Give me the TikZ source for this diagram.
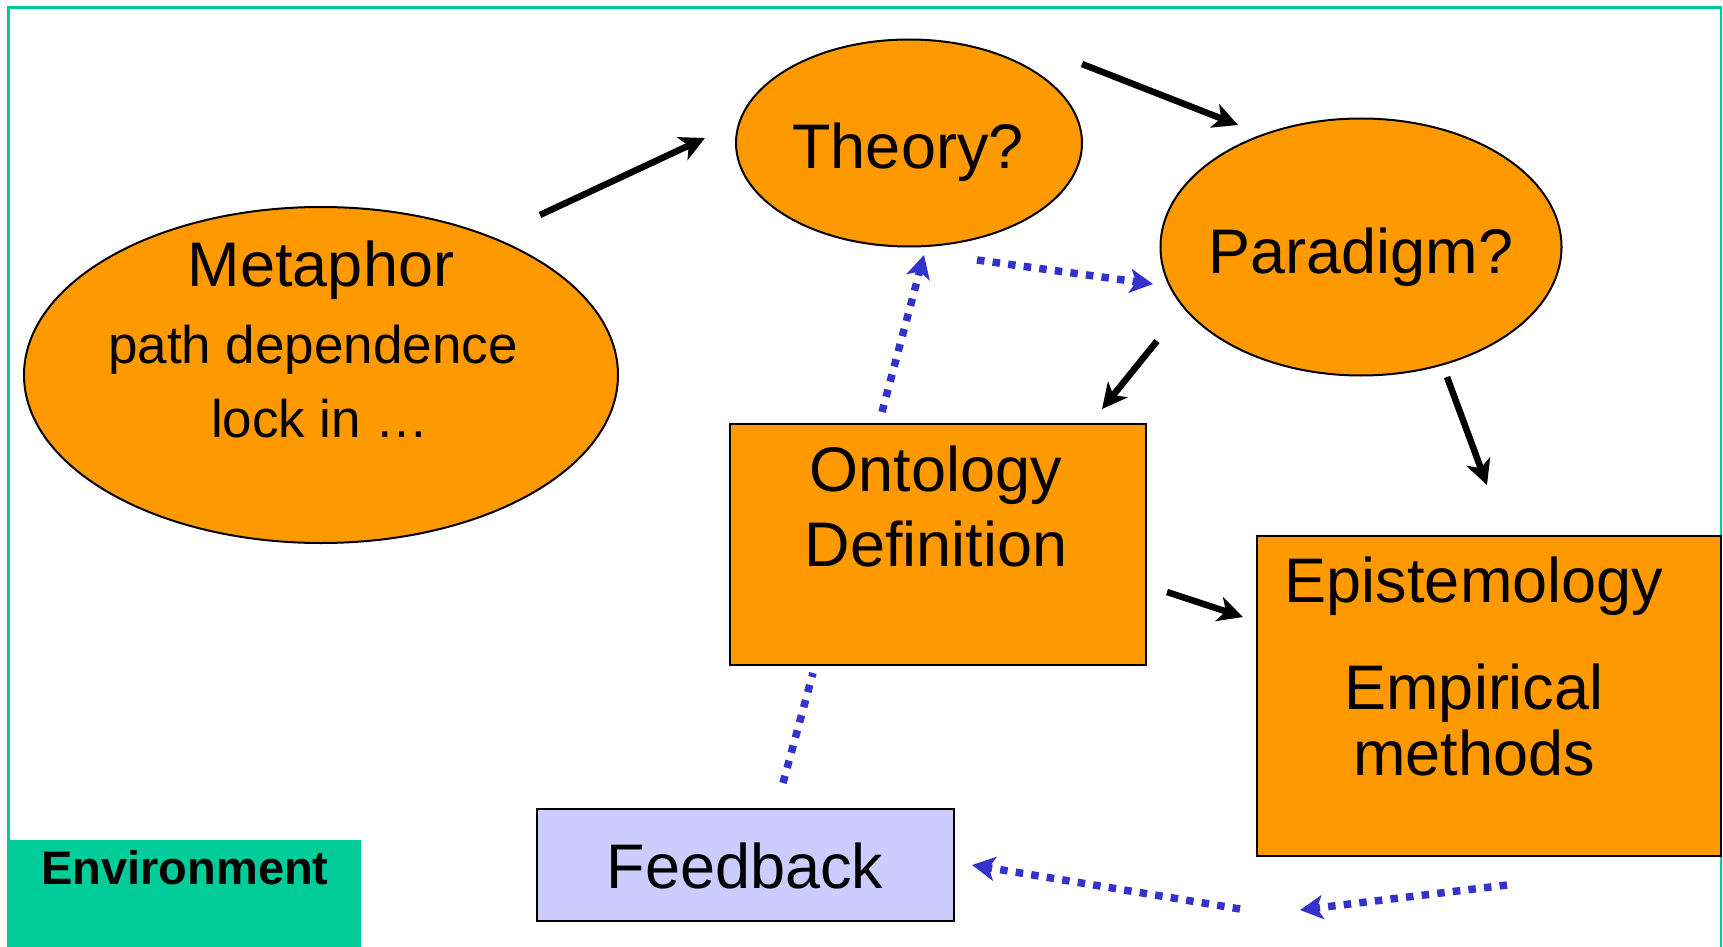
\documentclass[tikz,border=0pt]{standalone}
\usepackage{fontspec}
\setmainfont{Liberation Sans}
\usetikzlibrary{arrows.meta,shapes.geometric}
\definecolor{orng}{HTML}{FF9900}
\definecolor{dblue}{HTML}{3333CC}
\definecolor{lav}{HTML}{CCCCFF}
\definecolor{envgreen}{HTML}{00CC99}
\begin{document}
\begin{tikzpicture}[x=1pt,y=-1pt,
  shapebox/.style={draw=black, line width=2pt, fill=orng, inner sep=0pt},
  oval/.style={shapebox, ellipse},
  big/.style={font=\fontsize{63}{70}\selectfont, anchor=base, inner sep=0pt},
  mid/.style={font=\fontsize{53}{60}\selectfont, anchor=base, inner sep=0pt},
  envtext/.style={font=\fontsize{47}{52}\selectfont\bfseries, anchor=base, inner sep=0pt},
  solidarrow/.style={line width=6.5pt, -{Stealth[length=25pt,width=25pt,inset=7pt]}},
  dotline/.style={dblue, line width=7.5pt, dash pattern=on 7.5pt off 8.2pt},
  dotarrow/.style={dotline, -{Stealth[length=23pt,width=24pt,inset=6pt]}},
]
\useasboundingbox (0,0) rectangle (1723,947);
% frame
\draw[envgreen, line width=2.5pt] (8.5,947) -- (8.5,7.5) -- (1721,7.5) -- (1721,947);
\node[fill=envgreen, inner sep=0pt, minimum width=353pt, minimum height=107pt, anchor=north west] (envbox) at (8,840) {};
\node[envtext] (envlabel) at (185,884) {Environment};

% shapes
\node[oval, minimum width=594pt, minimum height=336pt] (metaphor) at (321,375) {};
\node[oval, minimum width=346pt, minimum height=207pt] (theory) at (909,143) {};
\node[oval, minimum width=401pt, minimum height=257pt] (paradigm) at (1361,247) {};
\node[shapebox, minimum width=416pt, minimum height=241pt, anchor=north west] (ontology) at (729,423) {};
\node[shapebox, minimum width=464pt, minimum height=320pt, anchor=north west] (epistem) at (1256,535) {};
\node[shapebox, fill=lav, minimum width=417pt, minimum height=112pt, anchor=north west] (feedback) at (536,808) {};

% texts
\node[big] (tTheory) at (908,168) {Theory?};
\node[big] (tMet) at (321,286) {Metaphor};
\node[mid] (tPath) at (313,363) {path dependence};
\node[mid] (tLock) at (320,437) {lock in …};
\node[big] (tPar) at (1361,273) {Paradigm?};
\node[big] (tOnt) at (936,491) {Ontology};
\node[big] (tDef) at (936,566) {Definition};
\node[big] (tEpi) at (1474,602) {Epistemology};
\node[big] (tEmp) at (1474,709) {Empirical};
\node[big] (tMeth) at (1474,775) {methods};
\node[big] (tFeed) at (745,888) {Feedback};

% connector end points
\coordinate (a1) at (540,215);  \coordinate (a2) at (705,138);
\coordinate (b1) at (1082,64);  \coordinate (b2) at (1238,125);
\coordinate (c1) at (1157,341); \coordinate (c2) at (1102,409);
\coordinate (d1) at (1447,377); \coordinate (d2) at (1487,485);
\coordinate (e1) at (1167,592); \coordinate (e2) at (1243,617);
\coordinate (f1) at (882,412);  \coordinate (f2) at (924,255);
\coordinate (g1) at (977,260);  \coordinate (g2) at (1153,284);
\coordinate (h1) at (783,783);  \coordinate (h2) at (813,673);
\coordinate (i1) at (1507,885); \coordinate (i2) at (1300,910);
\coordinate (j1) at (1240,909); \coordinate (j2) at (972,865);

% solid arrows
\draw[solidarrow] (a1) -- (a2);
\draw[solidarrow] (b1) -- (b2);
\draw[solidarrow] (c1) -- (c2);
\draw[solidarrow] (d1) -- (d2);
\draw[solidarrow] (e1) -- (e2);

% dotted arrows
\draw[dotarrow] (f1) -- (f2);
\draw[dotarrow] (g1) -- (g2);
\draw[dotline] (h1) -- (h2);
\draw[dotarrow] (i1) -- (i2);
\draw[dotarrow] (j1) -- (j2);
\end{tikzpicture}
\end{document}
